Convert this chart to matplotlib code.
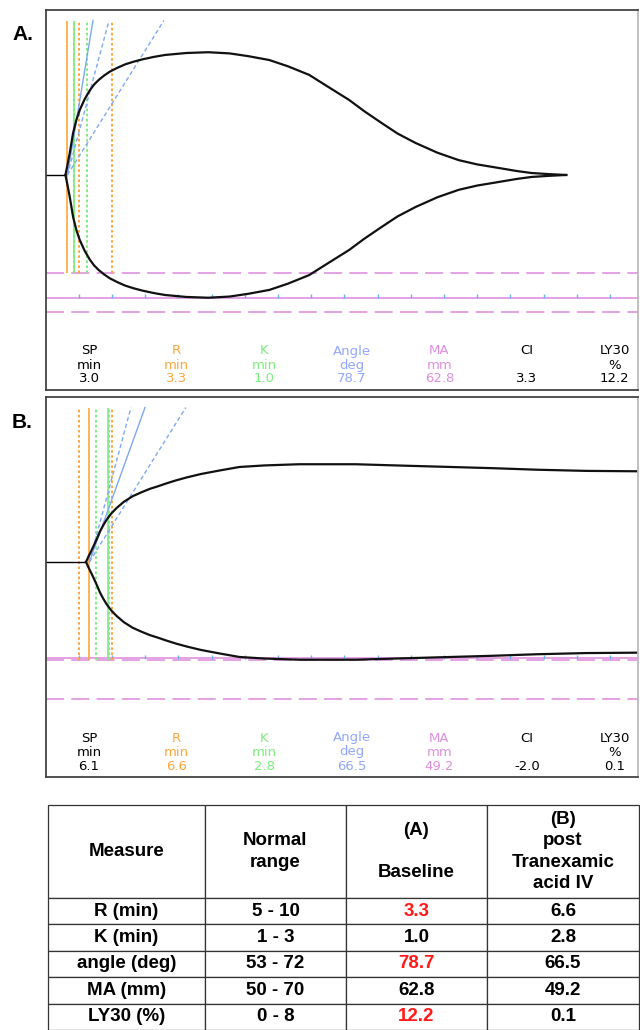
import numpy as np
import matplotlib
matplotlib.use('Agg')
import matplotlib.pyplot as plt

# TEG tracings, half amplitude (mm) vs time (min)
t_a = [3.0, 3.3, 3.65, 4.15, 4.65, 5.15, 5.9, 6.65, 7.3, 8.0, 8.8, 9.65, 10.8, 12.0, 13.3,
       14.65, 16.3, 18.0, 21.2, 24.5, 27.7, 30.5, 33.7, 36.5, 39.7, 42.5, 45.7, 48.0, 50.6,
       53.0, 55.7, 59.0, 62.2, 65.0, 68.2, 71.0, 73.2, 76.0, 78.4]
amp_a = [0, 2.5, 5.6, 10.7, 14.1, 16.6, 19.4, 21.6, 23.1, 24.3, 25.4, 26.4, 27.4, 28.3, 29.0,
         29.6, 30.2, 30.7, 31.2, 31.4, 31.1, 30.4, 29.4, 27.8, 25.6, 22.6, 19.2, 16.3, 13.3,
         10.6, 8.2, 5.7, 3.8, 2.7, 1.8, 1.0, 0.5, 0.2, 0]

t_b = [6.1, 6.5, 7.0, 7.7, 8.2, 8.7, 9.2, 9.9, 10.7, 11.8, 13.1, 14.4, 15.7, 17.0, 18.2, 19.7,
       21.2, 23.4, 26.2, 29.2, 33.0, 38.2, 46.7, 54.7, 61.0, 67.2, 74.0, 81.4, 89.2]
amp_b = [0, 1.5, 3.2, 5.8, 7.8, 9.4, 10.8, 12.4, 13.8, 15.4, 16.8, 17.8, 18.7, 19.4, 20.1, 20.9,
         21.6, 22.5, 23.4, 24.3, 24.7, 25.0, 25.0, 24.6, 24.3, 24.0, 23.6, 23.3, 23.2]

# measured parameters, panel A then panel B
sp = [3.0, 6.1]
r_time = [3.3, 6.6]
k_time = [1.0, 2.8]
angle = [78.7, 66.5]
ma = [62.8, 49.2]
ci = [3.3, -2.0]
ly30 = [12.2, 0.1]

r_range = [5, 10]
k_range = [1, 3]
angle_range = [53, 72]
ma_range = [50, 70]

# summary table
col_labels = ['Measure', 'Normal\nrange', '(A)\n\nBaseline', '(B)\npost\nTranexamic\nacid IV']
measures = ['R (min)', 'K (min)', 'angle (deg)', 'MA (mm)', 'LY30 (%)']
normal = ['5 - 10', '1 - 3', '53 - 72', '50 - 70', '0 - 8']
baseline = ['3.3', '1.0', '78.7', '62.8', '12.2']
post_txa = ['6.6', '2.8', '66.5', '49.2', '0.1']
abnormal = [True, False, True, False, True]

ORANGE = '#ffa53a'
GREEN = '#7ded7d'
BLUE = '#7fa8f5'
MAG = '#e29be2'
W, H = 640, 1030

fig = plt.figure(figsize=(6.4, 10.3), dpi=100)


def panel(top, t, amp, i, tag):
    ax = fig.add_axes([45.5 / W, 1 - (top + 380) / H, 592.5 / W, 380 / H])
    ax.set_xlim(0, 89.2)
    ax.set_ylim(-55, 42.2)
    ax.set_xticks([])
    ax.set_yticks([])
    for s in ax.spines.values():
        s.set_color('#444444')
        s.set_linewidth(1.3)
    ax.spines['right'].set_color('#bbbbbb')

    # MA lines
    ax.axhline(-ma_range[0] / 2, color=MAG, lw=1.3, dashes=(10, 4))
    ax.axhline(-ma_range[1] / 2, color=MAG, lw=1.3, dashes=(10, 4))
    ax.axhline(-ma[i] / 2, color=MAG, lw=1.3)
    ticks = np.arange(5, 89, 5)
    ax.plot(ticks, np.full(len(ticks), -ma[i] / 2 + 0.4), ls='none', marker='|',
            ms=3, mew=1, color='#66b6ee')

    ytop = 39.5
    ybot = -ma_range[0] / 2
    ax.vlines(r_range, ybot, ytop, color=ORANGE, lw=1.4, linestyles=(0, (1.3, 1.3)))
    ax.vlines([r_time[i] + k for k in k_range], ybot, ytop, color=GREEN, lw=1.4,
              linestyles=(0, (1.3, 1.3)))
    ax.vlines(r_time[i], ybot, ytop, color=ORANGE, lw=1.2)
    ax.vlines(r_time[i] + k_time[i], ybot, ytop, color=GREEN, lw=1.2)

    for a, ls in [(angle_range[0], (0, (3, 2))), (angle_range[1], (0, (3, 2))), (angle[i], '-')]:
        slope = 2.05 * np.tan(np.radians(a))
        ax.plot([r_time[i], r_time[i] + ytop / slope], [0, ytop], color=BLUE, lw=1.0, ls=ls)

    ax.plot([0, sp[i]], [0, 0], color='black', lw=1.0)
    ax.plot(t, amp, color='#111111', lw=1.6, solid_joinstyle='round')
    ax.plot(t, -np.array(amp), color='#111111', lw=1.6, solid_joinstyle='round')

    fig.text(12 / W, 1 - (top + 25) / H, tag, fontsize=15, fontweight='bold',
             family='Liberation Sans', va='center')

    heads = [('SP', 'min', sp[i], 'black'), ('R', 'min', r_time[i], ORANGE),
             ('K', 'min', k_time[i], GREEN), ('Angle', 'deg', angle[i], '#93a8fb'),
             ('MA', 'mm', ma[i], '#df8fdf'), ('CI', '', ci[i], 'black'),
             ('LY30', '%', ly30[i], 'black')]
    for j, (name, unit, val, col) in enumerate(heads):
        x = (89 + 87.6 * j) / W
        fig.text(x, 1 - (top + 341) / H, name, ha='center', va='center', fontsize=9.5, color=col)
        fig.text(x, 1 - (top + 355) / H, unit, ha='center', va='center', fontsize=9.5, color=col)
        fig.text(x, 1 - (top + 369) / H, '%.1f' % val, ha='center', va='center', fontsize=9.5,
                 color=col)


panel(10, t_a, amp_a, 0, 'A.')
panel(397, t_b, amp_b, 1, 'B.')

# table
tax = fig.add_axes([48 / W, 0, (639 - 48) / W, (1030 - 805) / H])
tax.axis('off')
rows = [[m, n, b, p] for m, n, b, p in zip(measures, normal, baseline, post_txa)]
tbl = tax.table(cellText=rows, colLabels=col_labels, cellLoc='center',
                colWidths=[157, 141, 141, 152], bbox=[0, 0, 1, 1])
tbl.auto_set_font_size(False)
for (rr, cc), cell in tbl.get_celld().items():
    cell.set_edgecolor('#333333')
    cell.set_linewidth(0.9)
    cell.set_height(93 if rr == 0 else 26.4)
    txt = cell.get_text()
    txt.set_fontsize(13.5)
    txt.set_fontweight('bold')
    txt.set_family('Liberation Sans')
    txt.set_linespacing(1.32)
    if rr > 0 and cc == 2 and abnormal[rr - 1]:
        txt.set_color('#ff1a1a')

fig.savefig('out.png', dpi=100)
